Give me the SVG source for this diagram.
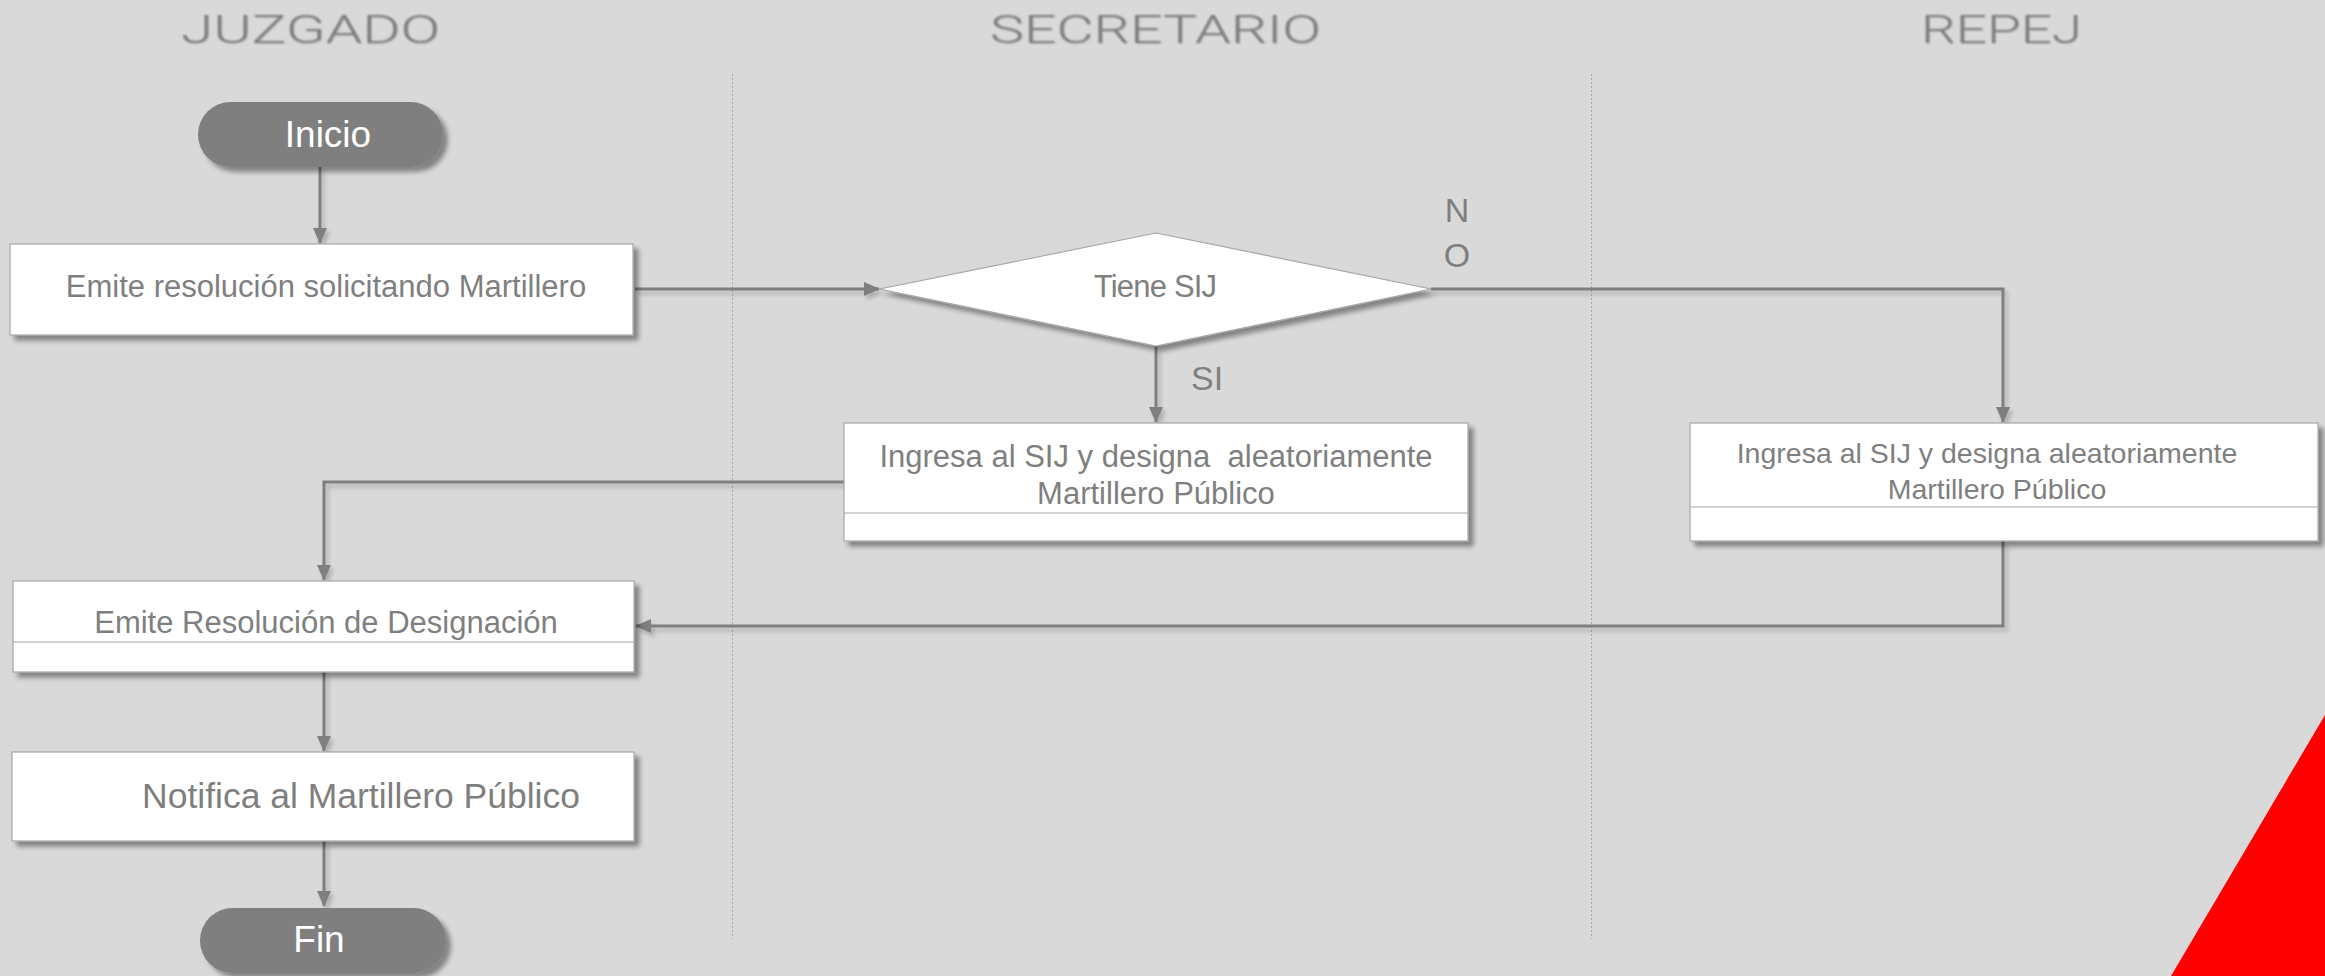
<svg xmlns="http://www.w3.org/2000/svg" width="2325" height="976" viewBox="0 0 2325 976">
<style>
.hd{font-family:Roboto,"Liberation Sans",Arial,sans-serif;font-weight:300;font-size:39px;fill:#7a7a7a;}
.tx{font-family:"Liberation Sans",Arial,sans-serif;fill:#7f7f7f;}
.term{fill:#7f7f7f;}
.ttx{font-family:"Liberation Sans",Arial,sans-serif;font-size:37px;fill:#ffffff;text-anchor:middle;}
.box{fill:#ffffff;stroke:#a6a6a6;stroke-width:1.2;}
.sep{fill:none;stroke:#a6a6a6;stroke-width:1.2;}
.con{fill:none;stroke:#7f7f7f;stroke-width:3;}
.lane{stroke:#a8a8a8;stroke-width:1;stroke-dasharray:2,2;}
</style>
<defs>
<filter id="sh" x="-10%" y="-20%" width="130%" height="160%">
<feGaussianBlur in="SourceAlpha" stdDeviation="2.5"/>
<feOffset dx="5" dy="5" result="o"/>
<feComponentTransfer><feFuncA type="linear" slope="0.4"/></feComponentTransfer>
<feMerge><feMergeNode/><feMergeNode in="SourceGraphic"/></feMerge>
</filter>
<filter id="csh" x="-5%" y="-5%" width="110%" height="110%">
<feGaussianBlur in="SourceAlpha" stdDeviation="2"/>
<feOffset dx="3" dy="4"/>
<feComponentTransfer><feFuncA type="linear" slope="0.2"/></feComponentTransfer>
<feMerge><feMergeNode/><feMergeNode in="SourceGraphic"/></feMerge>
</filter>
<filter id="hsh" x="-5%" y="-20%" width="110%" height="150%">
<feGaussianBlur in="SourceGraphic" stdDeviation="0.8" result="b"/>
<feGaussianBlur in="SourceAlpha" stdDeviation="1.2"/>
<feOffset dx="0.5" dy="1"/>
<feComponentTransfer><feFuncA type="linear" slope="0.15"/></feComponentTransfer>
<feMerge><feMergeNode/><feMergeNode in="b"/></feMerge>
</filter>
<marker id="ar" markerUnits="userSpaceOnUse" markerWidth="16" markerHeight="14" viewBox="0 0 16 14" refX="15" refY="7" orient="auto">
<path d="M0,0 L16,7 L0,14 z" fill="#7f7f7f"/>
</marker>
</defs>
<rect x="0" y="0" width="2325" height="976" fill="#d9d9d9"/>
<g id="lanes">
<line class="lane" x1="732.5" y1="74" x2="732.5" y2="939"/>
<line class="lane" x1="1591.5" y1="74" x2="1591.5" y2="939"/>
<g filter="url(#hsh)">
<text class="hd" x="181" y="43" textLength="259" lengthAdjust="spacingAndGlyphs">JUZGADO</text>
<text class="hd" x="990" y="43" textLength="331" lengthAdjust="spacingAndGlyphs">SECRETARIO</text>
<text class="hd" x="1921" y="43" textLength="161" lengthAdjust="spacingAndGlyphs">REPEJ</text>
</g>
</g>
<g id="connectors" filter="url(#csh)">
<path class="con" d="M320,167 L320,243" marker-end="url(#ar)"/>
<path class="con" d="M635,289 L879,289" marker-end="url(#ar)"/>
<path class="con" d="M1156,346 L1156,422" marker-end="url(#ar)"/>
<path class="con" d="M1431,289 L2003,289 L2003,422" marker-end="url(#ar)"/>
<path class="con" d="M844,482 L324,482 L324,580" marker-end="url(#ar)"/>
<path class="con" d="M2003,541 L2003,626 L636,626" marker-end="url(#ar)"/>
<path class="con" d="M324,672 L324,751" marker-end="url(#ar)"/>
<path class="con" d="M324,841 L324,906" marker-end="url(#ar)"/>
</g>
<g id="labels">
<text class="tx" x="1191" y="390" font-size="34">SI</text>
<text class="tx" x="1457" y="222" font-size="34" text-anchor="middle">N</text>
<text class="tx" x="1457" y="267" font-size="34" text-anchor="middle">O</text>
</g>
<g id="inicio">
<rect class="term" x="198" y="102" width="245" height="65" rx="32.5" filter="url(#sh)"/>
<text class="ttx" x="328" y="147">Inicio</text>
</g>
<g id="emite-resolucion">
<rect class="box" x="10" y="244" width="623" height="91" filter="url(#sh)"/>
<text class="tx" x="326" y="297" font-size="31" text-anchor="middle">Emite resolución solicitando Martillero</text>
</g>
<g id="tiene-sij">
<polygon class="box" points="879.5,289 1156,233 1431,289 1156,346" filter="url(#sh)"/>
<text class="tx" x="1155" y="297" font-size="31" text-anchor="middle" letter-spacing="-0.8">Tiene SIJ</text>
</g>
<g id="ingresa-secretario">
<rect class="box" x="844" y="423" width="624" height="118" filter="url(#sh)"/>
<line class="sep" x1="844" y1="513" x2="1468" y2="513"/>
<text class="tx" x="1156" y="467" font-size="31" text-anchor="middle" xml:space="preserve">Ingresa al SIJ y designa  aleatoriamente</text>
<text class="tx" x="1156" y="504" font-size="31" text-anchor="middle">Martillero Público</text>
</g>
<g id="ingresa-repej">
<rect class="box" x="1690" y="423" width="628" height="118" filter="url(#sh)"/>
<line class="sep" x1="1690" y1="507" x2="2318" y2="507"/>
<text class="tx" x="1987" y="463" font-size="28.5" text-anchor="middle">Ingresa al SIJ y designa aleatoriamente</text>
<text class="tx" x="1997" y="499" font-size="28.5" text-anchor="middle">Martillero Público</text>
</g>
<g id="emite-designacion">
<rect class="box" x="13" y="581" width="621" height="91" filter="url(#sh)"/>
<line class="sep" x1="13" y1="642" x2="634" y2="642"/>
<text class="tx" x="326" y="633" font-size="31" text-anchor="middle">Emite Resolución de Designación</text>
</g>
<g id="notifica">
<rect class="box" x="12" y="752" width="622" height="89" filter="url(#sh)"/>
<text class="tx" x="361" y="808" font-size="35.5" text-anchor="middle">Notifica al Martillero Público</text>
</g>
<g id="fin">
<rect class="term" x="200" y="908" width="246" height="65" rx="32.5" filter="url(#sh)"/>
<text class="ttx" x="319" y="952">Fin</text>
</g>
<polygon points="2325,715 2325,976 2171,976" fill="#ff0000"/>
</svg>
